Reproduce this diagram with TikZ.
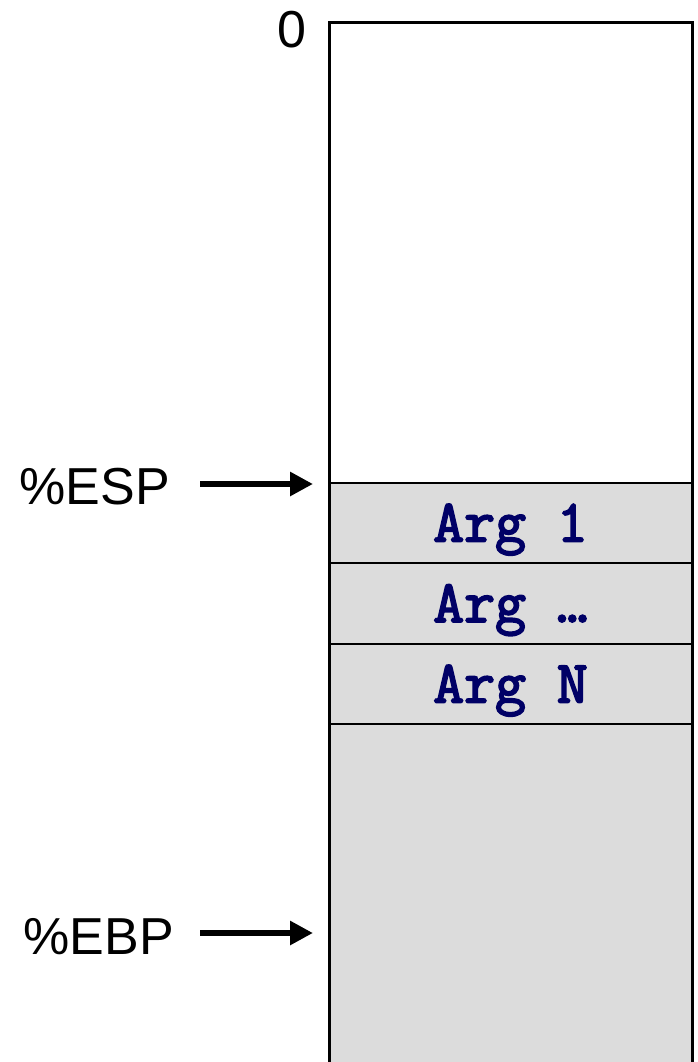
\documentclass[tikz,border=0pt]{standalone}
\usepackage{fontspec}
\setmainfont{Liberation Sans}
\newfontfamily\codefont[FakeBold=3]{Latin Modern Mono}
\usetikzlibrary{arrows.meta}
\definecolor{slotgrey}{HTML}{DCDCDC}
\definecolor{argblue}{HTML}{000066}
\tikzset{
  slot/.style={draw=black, line width=2pt, fill=slotgrey, minimum width=363pt,
    anchor=north west, inner sep=0pt, outer sep=0pt,
    text height=37pt, text depth=0pt,
    font=\codefont\fontsize{60}{66}\selectfont, text=argblue},
  reglabel/.style={inner sep=0pt, anchor=base east, font=\fontsize{52}{60}\selectfont},
  ptr/.style={line width=6.5pt, -{Triangle[length=23pt,width=23pt]}}
}
\begin{document}
\begin{tikzpicture}[x=1pt,y=-1pt]
  \useasboundingbox (0,0) rectangle (698,1062);
  \begin{scope}
    \clip (0,0) rectangle (698,1062);
    % free space above the stack top
    \node[slot, fill=white, minimum height=460pt] (free) at (329,23) {};
    % argument slots
    \node[slot, minimum height=80pt] (arg1) at (329,483) {Arg 1};
    \node[slot, minimum height=81pt] (argd) at (329,563) {Arg …};
    \node[slot, minimum height=80pt] (argn) at (329,644) {Arg N};
    % remainder of the caller frame
    \node[slot, minimum height=400pt] (rest) at (329,724) {};
    % outer frame, open at the bottom
    \draw[line width=3pt] (329,1100) -- (329,23) -- (692,23) -- (692,1100);
  \end{scope}
  % address zero
  \node[reglabel] (zero) at (307,48) {0};
  % register pointers
  \coordinate (esptip) at (313,484);
  \coordinate (ebptip) at (313,933);
  \node[reglabel] (esp) at (170,504) {\%ESP};
  \node[reglabel] (ebp) at (174,954) {\%EBP};
  \draw[ptr] ([xshift=30pt]esp.east |- esptip) -- (esptip);
  \draw[ptr] ([xshift=26pt]ebp.east |- ebptip) -- (ebptip);
\end{tikzpicture}
\end{document}
